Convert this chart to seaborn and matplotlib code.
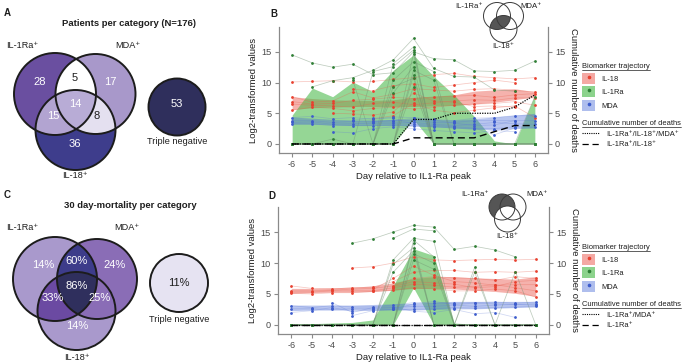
import numpy as np
import pandas as pd
import matplotlib
matplotlib.use("Agg")
import matplotlib.pyplot as plt
import seaborn as sns
from matplotlib.patches import Circle, Polygon, Patch
from matplotlib.lines import Line2D
from matplotlib.transforms import IdentityTransform

nan = np.nan

# ---------------- Venn data ----------------
set_labels = ["IL-1Ra⁺", "MDA⁺", "IL-18⁺"]
region_keys = ["A", "B", "C", "AB", "AC", "BC", "ABC"]
patients_counts = [28, 17, 36, 5, 15, 8, 14]
patients_triple_neg = 53
mortality_pct = ["14%", "24%", "14%", "60%", "33%", "25%", "86%"]
mortality_triple_neg = "11%"

# ---------------- Time-series data ----------------
days = list(range(-6, 7))

B_il18 = [
    [10.1, 10.2, 10.3, 10.1, 10.2, 10.5, 10.8, 11.3, 11.5, 11.0, 10.8, 10.6, 10.8],
    [7.7, 6.8, 7.0, 8.5, 7.5, 8.1, 9.0, 8.8, 8.6, 8.9, 9.0, 8.7, 8.5],
    [6.9, 6.5, 6.6, 7.1, 7.3, 7.6, 7.4, 7.6, 7.8, 7.9, 7.6, 8.0, 8.2],
    [6.5, 6.3, 6.2, 6.0, 6.6, 6.8, 6.4, 6.7, 7.0, 7.2, 7.1, 7.5, 7.5],
    [5.5, 6.0, 5.8, 5.4, 5.8, 6.0, 5.7, 6.0, 6.3, 6.5, 6.6, 6.9, 6.3],
    [nan, nan, 5.0, 4.9, 4.7, 5.2, 8.3, 7.0, 6.8, 6.1, 6.2, 6.0, nan],
    [nan, nan, nan, 8.9, 8.7, 9.5, 9.8, 9.2, 9.6, 10.0, 10.4, 10.0, nan],
    [nan, nan, nan, nan, 4.1, 4.6, 6.6, 5.5, 5.1, 5.5, 5.9, 6.2, 4.3],
]
B_il1ra = [
    [14.5, 13.2, 12.5, 13.0, 11.3, 11.6, 15.0, 13.9, 13.7, 11.9, 11.8, 12.0, 13.5],
    [nan, 9.3, 10.3, 10.8, 12.0, 13.7, 17.2, 12.3, 11.0, 10.9, 8.8, 8.6, nan],
    [0.0, 0.0, 0.8, 0.0, 0.0, 13.1, 15.8, 0.0, 0.0, 0.0, 0.0, 0.0, nan],
    [0.0, 0.0, 0.0, 0.0, 11.8, 12.6, 15.3, 0.0, 0.0, 0.0, 0.0, 0.0, 0.0],
    [0.0, 0.0, 0.0, 0.0, 0.0, 0.0, 14.7, 0.0, 0.0, 0.0, 0.0, 0.0, 0.0],
    [nan, nan, nan, 10.4, 0.0, 10.4, 13.4, 11.8, 0.0, 0.0, 0.0, 0.0, nan],
    [nan, nan, nan, 0.0, 0.0, 8.3, 12.6, 0.0, 0.0, 0.0, nan, nan, nan],
    [nan, nan, 0.0, 0.0, 0.0, 0.0, 12.0, 10.4, 0.0, 0.0, 0.0, 0.0, 0.0],
    [nan, nan, nan, nan, 0.0, 0.0, 11.2, 0.0, 0.0, 0.0, 0.0, 0.0, 0.0],
    [0.0, nan, nan, 0.0, 0.0, 9.3, 10.7, 0.0, nan, 0.0, 0.0, 0.0, 7.7],
    [0.0, 0.0, 0.0, 0.0, 0.0, 0.0, 9.3, 0.0, 0.0, 0.0, 0.0, 0.0, 0.0],
]
B_mda = [
    [4.3, 4.5, 4.1, 4.3, 4.0, 4.4, 4.3, 4.0, 3.8, 4.2, 4.3, 4.6, 4.6],
    [3.8, 3.8, 3.5, 3.7, 3.7, 3.8, 3.9, 3.5, 3.5, 3.8, 3.8, 3.8, 3.8],
    [3.5, 3.6, 3.2, 3.3, 3.4, 3.4, 3.5, 3.2, 3.0, 3.2, 3.5, 3.3, 3.2],
    [3.3, 3.3, 3.0, 3.0, 3.0, 3.1, 3.0, 2.8, 2.6, 2.5, 2.5, 2.8, 2.7],
    [nan, nan, 2.0, 1.8, 2.5, 2.8, 2.5, 2.2, 2.0, 1.8, 2.2, 2.0, nan],
    [nan, nan, nan, nan, 3.6, 3.8, 4.2, 3.9, 3.4, 3.0, 3.1, 3.8, nan],
    [nan, nan, nan, 3.9, 4.2, 4.2, 3.2, 3.0, 2.8, 2.6, 1.5, 2.6, nan],
]
B_il18_lo = [5.6, 5.9, 6.0, 6.1, 6.1, 6.1, 6.1, 6.2, 6.3, 6.5, 6.8, 7.2, 7.7]
B_il18_hi = [7.7, 7.4, 7.2, 7.1, 7.1, 7.2, 7.6, 7.8, 8.0, 8.6, 8.8, 9.0, 8.5]
B_il1ra_lo = [0.0, 0.0, 0.0, 0.0, 0.0, 0.0, 4.0, 0.0, 0.0, 0.0, 0.0, 0.0, 0.0]
B_il1ra_hi = [4.7, 9.1, 7.7, 10.1, 8.5, 12.0, 14.5, 11.0, 8.0, 4.5, 0.5, 0.0, 8.0]
B_mda_lo = [3.2, 3.2, 3.1, 3.0, 3.0, 3.0, 2.9, 2.8, 2.6, 2.4, 2.3, 2.5, 2.6]
B_mda_hi = [4.4, 4.2, 4.0, 3.9, 3.9, 4.0, 4.1, 4.0, 3.9, 4.1, 4.4, 4.7, 5.0]
B_deaths_triple = [0, 0, 0, 0, 0, 0, 4, 4, 5, 5, 5, 6, 8]
B_deaths_pair = [0, 0, 0, 0, 0, 0, 1, 1, 1, 1, 2, 3, 3]
B_death_labels = ["IL-1Ra⁺/IL-18⁺/MDA⁺", "IL-1Ra⁺/IL-18⁺"]

D_il18 = [
    [nan, nan, nan, 9.2, 9.4, 10.0, 11.0, 10.5, 10.4, 10.5, 10.6, 10.5, 10.6],
    [6.3, 5.9, 5.8, 6.0, 6.1, 7.0, 8.5, 8.8, 8.8, 8.5, 8.6, 8.5, 8.7],
    [5.5, 5.5, 5.6, 5.8, 5.9, 6.3, 7.5, 7.8, 7.6, 7.5, 7.2, 7.8, 7.5],
    [5.3, 5.3, 5.5, 5.5, 5.5, 6.0, 6.6, 6.4, 6.1, 6.2, 6.5, 6.0, 5.5],
    [5.1, 5.0, 5.2, 5.2, 5.4, 5.6, 6.0, 5.8, 5.5, 5.5, 5.8, 5.5, 4.5],
    [nan, nan, nan, nan, 5.7, 7.5, 9.5, 8.0, 7.0, 6.8, 6.4, 6.5, 6.5],
    [nan, nan, nan, nan, nan, 6.2, 7.0, 6.8, 6.6, 6.0, 6.2, 7.0, 7.2],
]
D_il1ra = [
    [nan, nan, nan, 13.2, 13.9, 15.0, 16.1, 15.8, 12.2, 12.7, 12.1, 11.0, nan],
    [nan, nan, nan, nan, nan, 14.0, 15.5, 15.2, nan, nan, nan, nan, nan],
    [0.0, 0.0, 0.0, 0.0, 0.0, 10.5, 14.0, 13.5, 0.0, 0.0, 0.0, 0.0, 0.0],
    [0.0, 0.0, 0.0, 0.0, 0.0, 0.0, 13.7, 11.0, 0.0, 0.0, 0.0, 0.0, 0.0],
    [0.0, 0.0, 0.0, 0.0, 0.0, 9.8, 12.5, 0.0, 0.0, 9.3, 0.0, 8.6, 0.0],
    [0.0, 0.0, 0.0, 0.0, 0.0, 0.0, 11.5, 10.0, 0.0, 0.0, 0.0, 0.0, 0.0],
    [nan, nan, 0.0, 0.0, 0.0, 8.5, 12.0, 0.0, 0.0, 0.0, nan, nan, nan],
    [0.0, 0.0, 0.0, 0.0, 0.0, 0.0, 10.5, 9.0, 0.0, 0.0, 0.0, 0.0, 0.0],
    [nan, nan, nan, 0.0, 0.0, 0.0, 13.2, 0.0, 0.0, 8.5, 0.0, 0.0, 0.0],
]
D_mda = [
    [3.1, 2.8, 3.1, 2.9, 2.9, 3.2, 3.6, 3.5, 3.5, 3.6, 3.7, 3.5, 3.7],
    [2.6, 2.6, 2.5, 2.6, 2.6, 2.8, 3.0, 3.0, 3.2, 3.0, 3.2, 3.3, 3.2],
    [2.0, 2.3, 2.8, 2.2, 2.4, 2.5, 2.5, 2.6, 2.8, 2.7, 2.8, 2.9, 3.0],
    [nan, nan, 3.6, 2.0, 2.8, 2.9, 2.2, 2.0, 2.5, 1.8, 2.0, 1.2, nan],
    [nan, nan, nan, 1.5, 2.3, 2.5, 3.4, 3.8, 3.3, 3.5, 3.4, 3.3, 3.4],
]
D_il18_lo = [5.1, 5.2, 5.3, 5.3, 5.4, 5.6, 5.9, 5.9, 5.8, 5.6, 5.4, 5.1, 4.6]
D_il18_hi = [5.9, 5.9, 6.0, 6.1, 6.3, 6.8, 7.5, 7.8, 7.8, 7.6, 7.5, 7.4, 7.8]
D_il1ra_lo = [0.0, 0.0, 0.0, 0.0, 0.0, 0.0, 6.0, 0.0, 0.0, 0.0, 0.0, 0.0, 0.0]
D_il1ra_hi = [0.2, 0.2, 0.3, 0.4, 0.8, 6.3, 12.3, 11.2, 0.3, 0.1, 0.1, 0.1, 0.1]
D_mda_lo = [2.3, 2.4, 2.4, 2.4, 2.4, 2.4, 2.4, 2.5, 2.6, 2.6, 2.7, 2.8, 2.9]
D_mda_hi = [3.2, 3.2, 3.2, 3.2, 3.3, 3.4, 3.5, 3.7, 3.8, 3.8, 3.8, 3.8, 3.8]
D_deaths_pair = [0, 0, 0, 0, 0, 0, 0, 0, 0, 0, 0, 0, 0]
D_deaths_single = [0, 0, 0, 0, 0, 0, 0, 0, 0, 0, 0, 0, 0]
D_death_labels = ["IL-1Ra⁺/MDA⁺", "IL-1Ra⁺"]

y_ticks = [0, 5, 10, 15]
markers = ["IL-18", "IL-1Ra", "MDA"]

# ---------------- style ----------------
sns.set_theme(style="ticks")
plt.rcParams["font.family"] = ["Liberation Sans", "DejaVu Sans"]
plt.rcParams["axes.unicode_minus"] = False
GRAY = "#8a8a8a"
TXT = "#1e1e1e"

pt_col = {"IL-18": "#e8402f", "IL-1Ra": "#2f7f35", "MDA": "#3d5ccc"}
line_col = {"IL-18": "#e8604f", "IL-1Ra": "#6f8f6f", "MDA": "#5f7ad6"}
line_alpha = {"IL-18": 0.35, "IL-1Ra": 0.45, "MDA": 0.3}
band_col = {"IL-18": "#e8493d", "IL-1Ra": "#3fb53f", "MDA": "#4668d6"}
band_alpha = {"IL-18": 0.42, "IL-1Ra": 0.55, "MDA": 0.38}


def blend(c, a):
    r, g, b = matplotlib.colors.to_rgb(c)
    return (1 - a + a * r, 1 - a + a * g, 1 - a + a * b)


fig = plt.figure(figsize=(6.85, 3.64), dpi=100)
W, H = 685.0, 364.0


def long_df(traj_dict):
    rows = []
    for m, trajs in traj_dict.items():
        for i, tr in enumerate(trajs):
            for d, v in zip(days, tr):
                rows.append((m, f"{m}_{i}", d, v))
    return pd.DataFrame(rows, columns=["marker", "patient", "day", "value"]).dropna()


def ts_panel(rect, trajs, bands, deaths, death_labels):
    ax = fig.add_axes(rect)
    df = long_df(trajs)
    for m in markers:
        lo, hi = bands[m]
        ax.fill_between(days, lo, hi, color=band_col[m], alpha=band_alpha[m], lw=0, zorder=1)
    for m in markers:
        sub = df[df.marker == m]
        sns.lineplot(data=sub, x="day", y="value", units="patient", estimator=None,
                     color=line_col[m], alpha=line_alpha[m], lw=0.55, ax=ax, zorder=2)
    for m in markers:
        sub = df[df.marker == m]
        sns.scatterplot(data=sub, x="day", y="value", color=pt_col[m], s=4,
                        linewidth=0, ax=ax, zorder=3)
    ax.set_xlim(-6.65, 6.65)
    ax.set_ylim(-1.47, 19.05)
    ax.set_xticks(days)
    ax.set_yticks(y_ticks)
    for s in ["top", "right"]:
        ax.spines[s].set_visible(False)
    for s in ["left", "bottom"]:
        ax.spines[s].set_color(GRAY)
        ax.spines[s].set_linewidth(0.9)
    ax.tick_params(length=3, width=0.8, color=GRAY, labelcolor="#4a4a4a", labelsize=6.6, pad=2)
    ax.set_xlabel("Day relative to IL1-Ra peak", fontsize=6.8, color=TXT, labelpad=2)
    ax.set_ylabel("Log2-transformed values", fontsize=6.8, color=TXT, labelpad=3)

    ax2 = ax.twinx()
    sns.lineplot(x=days, y=deaths[0], ax=ax2, color="black", lw=0.9, linestyle=(0, (1, 1)))
    sns.lineplot(x=days, y=deaths[1], ax=ax2, color="black", lw=1.0, linestyle=(0, (5, 3)))
    ax2.set_ylim(-1.47, 19.05)
    ax2.set_yticks(y_ticks)
    for s in ["top", "left", "bottom"]:
        ax2.spines[s].set_visible(False)
    ax2.spines["right"].set_color(GRAY)
    ax2.spines["right"].set_linewidth(0.9)
    ax2.tick_params(length=3, width=0.8, color=GRAY, labelcolor="#4a4a4a", labelsize=6.6, pad=2)
    ax2.set_ylabel("Cumulative number of deaths", fontsize=6.8, color=TXT, rotation=270, labelpad=9)
    return ax, ax2


axB, axB2 = ts_panel([279 / W, 1 - 153 / H, 269 / W, 126 / H],
                     {"IL-18": B_il18, "IL-1Ra": B_il1ra, "MDA": B_mda},
                     {"IL-18": (B_il18_lo, B_il18_hi), "IL-1Ra": (B_il1ra_lo, B_il1ra_hi),
                      "MDA": (B_mda_lo, B_mda_hi)},
                     (B_deaths_triple, B_deaths_pair), B_death_labels)
axD, axD2 = ts_panel([278 / W, 1 - 334 / H, 271 / W, 127 / H],
                     {"IL-18": D_il18, "IL-1Ra": D_il1ra, "MDA": D_mda},
                     {"IL-18": (D_il18_lo, D_il18_hi), "IL-1Ra": (D_il1ra_lo, D_il1ra_hi),
                      "MDA": (D_mda_lo, D_mda_hi)},
                     (D_deaths_pair, D_deaths_single), D_death_labels)

# ---------------- legends ----------------
legends = []


def add_legends(top_px, death_labels):
    h1 = [(Patch(facecolor=blend(band_col[m], band_alpha[m] + 0.05), edgecolor="none"),
           Line2D([], [], marker="o", ms=1.6, color=pt_col[m], lw=0)) for m in markers]
    l1 = fig.legend(h1, markers, title="Biomarker trajectory", loc="upper left",
                    bbox_to_anchor=(582 / W, 1 - top_px / H), frameon=False, fontsize=5.4,
                    title_fontsize=5.4, alignment="left", handlelength=1.75, handleheight=1.9,
                    labelspacing=0.35, handletextpad=0.8, borderpad=0, borderaxespad=0)
    h2 = [Line2D([], [], color="black", lw=0.8, linestyle=(0, (1, 1))),
          Line2D([], [], color="black", lw=0.9, linestyle=(0, (5, 3)))]
    l2 = fig.legend(h2, death_labels, title="Cumulative number of deaths", loc="upper left",
                    bbox_to_anchor=(582 / W, 1 - (top_px + 57) / H), frameon=False, fontsize=5.4,
                    title_fontsize=5.4, alignment="left", handlelength=2.3,
                    labelspacing=0.45, handletextpad=0.9, borderpad=0, borderaxespad=0)
    for l in (l1, l2):
        l.get_title().set_color(TXT)
        for t in l.get_texts():
            t.set_color(TXT)
        legends.append(l)


add_legends(63, B_death_labels)
add_legends(244, D_death_labels)

# ---------------- overlay (Venn diagrams, panel letters) ----------------
ov = fig.add_axes([0, 0, 1, 1], zorder=10)
ov.set_xlim(0, W)
ov.set_ylim(H, 0)
ov.axis("off")


def region_poly(circles, n=900):
    pts = []
    for i, (cx, cy, r) in enumerate(circles):
        t = np.linspace(0, 2 * np.pi, n, endpoint=False)
        x = cx + r * np.cos(t)
        y = cy + r * np.sin(t)
        ok = np.ones(n, bool)
        for j, (ox, oy, orr) in enumerate(circles):
            if j != i:
                ok &= (x - ox) ** 2 + (y - oy) ** 2 <= orr ** 2 + 1e-9
        pts.append(np.c_[x[ok], y[ok]])
    P = np.vstack(pts)
    c = P.mean(0)
    ang = np.arctan2(P[:, 1] - c[1], P[:, 0] - c[0])
    return P[np.argsort(ang)]


def draw_venn(circs, tn, colors, values, txt_cols, pos, tn_val, tn_col, tn_txt, lab_pos, tn_lab_y):
    A, B, C = circs
    for key, c in zip(["A", "B", "C"], circs):
        ov.add_patch(Circle(c[:2], c[2], fc=colors[key], ec="none"))
    for key, cs in [("AB", [A, B]), ("AC", [A, C]), ("BC", [B, C]), ("ABC", [A, B, C])]:
        ov.add_patch(Polygon(region_poly(cs), closed=True, fc=colors[key], ec="none"))
    for c in circs:
        ov.add_patch(Circle(c[:2], c[2], fc="none", ec="#1c1c1c", lw=1.4))
    ov.add_patch(Circle(tn[:2], tn[2], fc=tn_col, ec="#1c1c1c", lw=1.4))
    for k, v in zip(region_keys, values):
        ov.text(pos[k][0], pos[k][1], str(v), ha="center", va="center", fontsize=8,
                color=txt_cols.get(k, "white"))
    ov.text(tn[0], pos["TN"], str(tn_val), ha="center", va="center", fontsize=8, color=tn_txt)
    for lab, (x, y) in zip(set_labels, lab_pos):
        ov.text(x, y, lab, ha="center", va="center", fontsize=6.6, color=TXT)
    ov.text(tn[0], tn_lab_y, "Triple negative", ha="center", va="center", fontsize=6.6, color=TXT)


# Panel A
colors_A = {"A": "#6a4fa0", "B": "#a898ca", "C": "#3e3d8c", "AB": "#ffffff",
            "AC": "#b2a4d1", "BC": "#e4e0f0", "ABC": "#b8acd6"}
pos_A = {"A": (40, 82), "AB": (75, 78), "B": (110, 82), "ABC": (75, 104), "AC": (53, 116),
         "BC": (97, 116), "C": (75, 144), "TN": 104}
draw_venn([(55, 94, 41), (95.5, 94, 40), (75.5, 130, 40)], (177, 107, 28.5), colors_A,
          patients_counts, {"AB": "#1e1e1e", "BC": "#1e1e1e"}, pos_A,
          patients_triple_neg, "#2f2f5c", "white",
          [(22, 46), (128, 46), (75, 175)], 142)
ov.text(129, 23, "Patients per category (N=176)", ha="center", va="center",
        fontsize=6.8, fontweight="bold", color=TXT)

# Panel C
colors_C = {"A": "#a999cc", "B": "#8a6db6", "C": "#a999cc", "AB": "#3d3c8a",
            "AC": "#6b4aa2", "BC": "#8a6db6", "ABC": "#2f2f5d"}
pos_C = {"A": (43, 265), "AB": (77, 261), "B": (115, 265), "ABC": (77, 286), "AC": (53, 298),
         "BC": (100, 298), "C": (77, 326), "TN": 283}
draw_venn([(55, 279, 42), (97, 279, 40), (76.5, 311, 39)], (179, 283, 29), colors_C,
          mortality_pct, {}, pos_C, mortality_triple_neg, "#e6e3f2", "#1e1e1e",
          [(22, 228), (127, 228), (77, 357)], 319)
ov.text(130, 205, "30 day-mortality per category", ha="center", va="center",
        fontsize=6.8, fontweight="bold", color=TXT)


# mini venns
def mini_venn(circs, mode, labs):
    A, B, C = circs
    if mode == "AC":
        ov.add_patch(Polygon(region_poly([A, C]), closed=True, fc="#555555", ec="none"))
    else:
        ov.add_patch(Circle(A[:2], A[2], fc="#555555", ec="none"))
        ov.add_patch(Circle(C[:2], C[2], fc="white", ec="none"))
    for c in circs:
        ov.add_patch(Circle(c[:2], c[2], fc="none", ec="#3a3a3a", lw=0.7))
    for (txt, x, y, ha) in labs:
        ov.text(x, y, txt, ha=ha, va="center", fontsize=5.6, color=TXT)


mini_venn([(497, 16, 13.5), (510, 16, 13.5), (503.5, 29, 13.5)], "AC",
          [("IL-1Ra⁺", 483, 6, "right"), ("MDA⁺", 520, 6, "left"), ("IL-18⁺", 503.5, 46, "center")])
mini_venn([(502, 207, 13), (513, 207, 13), (507.5, 219, 13)], "A_only",
          [("IL-1Ra⁺", 489, 195, "right"), ("MDA⁺", 526, 195, "left"), ("IL-18⁺", 507.5, 237, "center")])

for letter, x, y in [("A", 4, 13), ("B", 270, 14), ("C", 4, 195), ("D", 268, 196)]:
    ov.text(x, y, letter, ha="left", va="center", fontsize=7, fontweight="bold", color=TXT)

# underline legend titles
fig.canvas.draw()
r = fig.canvas.get_renderer()
for l in legends:
    bb = l.get_title().get_window_extent(r)
    fig.add_artist(Line2D([bb.x0, bb.x1], [bb.y0 - 0.3, bb.y0 - 0.3], color=TXT, lw=0.5,
                          transform=IdentityTransform()))

fig.savefig("out.png", dpi=100)
